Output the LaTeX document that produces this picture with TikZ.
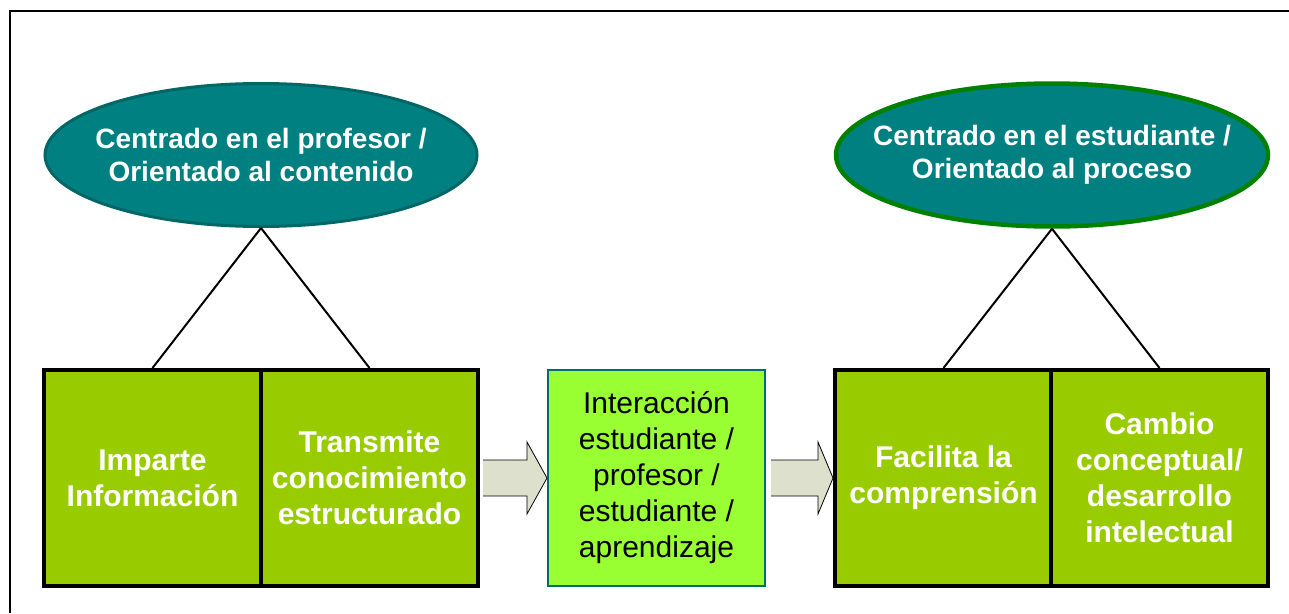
\documentclass[tikz,border=0pt]{standalone}
\usepackage{fontspec}
\setmainfont{Liberation Sans}
\usetikzlibrary{shapes.geometric,calc}
\definecolor{tealfill}{RGB}{0,128,128}
\definecolor{tealedge}{RGB}{0,102,102}
\definecolor{greenedge}{RGB}{0,128,0}
\definecolor{boxgreen}{RGB}{153,204,0}
\definecolor{midgreen}{RGB}{153,255,51}
\definecolor{midedge}{RGB}{0,110,110}
\definecolor{arrowfill}{RGB}{221,224,204}
\tikzset{
  oval/.style={ellipse, fill=tealfill, minimum width=432pt, minimum height=143pt,
    inner xsep=-80pt, inner ysep=-45pt,
    text=white, align=center, font=\fontsize{28}{33}\selectfont\bfseries},
  gbox/.style={rectangle, fill=boxgreen, draw=black, line width=4pt, minimum width=217pt,
    minimum height=216pt, inner sep=0pt, text=white, align=center,
    font=\fontsize{30}{36}\selectfont\bfseries},
  mbox/.style={rectangle, fill=midgreen, draw=midedge, line width=2pt, minimum width=217pt,
    minimum height=216pt, inner sep=0pt, text=black, align=center,
    font=\fontsize{30}{36}\selectfont},
  tri/.style={draw=black, line width=2pt},
  blockarrow/.style={fill=arrowfill, draw=black, line width=0.8pt, line join=miter}
}
\begin{document}
\begin{tikzpicture}[x=1pt,y=-1pt]
\useasboundingbox (0,0) rectangle (1289,613);
\fill[white] (0,0) rectangle (1289,613);
\draw[line width=2pt] (10,613) -- (10,11) -- (1289,11);

\node[oval, draw=tealedge, line width=3pt] (L) at (261,155) {Centrado en el profesor /\\Orientado al contenido};
\node[oval, draw=greenedge, line width=4.5pt] (R) at (1052,155) {Centrado en el estudiante /\\Orientado al proceso};

\node[gbox] (b1) at (152.5,478) {Imparte\\Información};
\node[gbox] (b2) at (369.5,478) {Transmite\\conocimiento\\estructurado};
\node[mbox] (m) at (656.5,478) {Interacción\\estudiante /\\profesor /\\estudiante /\\aprendizaje};
\node[gbox] (b3) at (943.5,478) {Facilita la\\comprensión};
\node[gbox] (b4) at (1159.5,478) {Cambio\\conceptual/\\desarrollo\\intelectual};

\draw[tri] (L.south) -- (b1.north);
\draw[tri] (L.south) -- (b2.north);
\draw[tri] (R.south) -- (b3.north);
\draw[tri] (R.south) -- (b4.north);

\draw[blockarrow] (483,460) -- (527,460) -- (527,442) -- (m.west) -- (527,514) -- (527,496) -- (483,496);
\draw[blockarrow] (771,460) -- (818,460) -- (818,442) -- (b3.west) -- (818,514) -- (818,496) -- (771,496);

\end{tikzpicture}
\end{document}
